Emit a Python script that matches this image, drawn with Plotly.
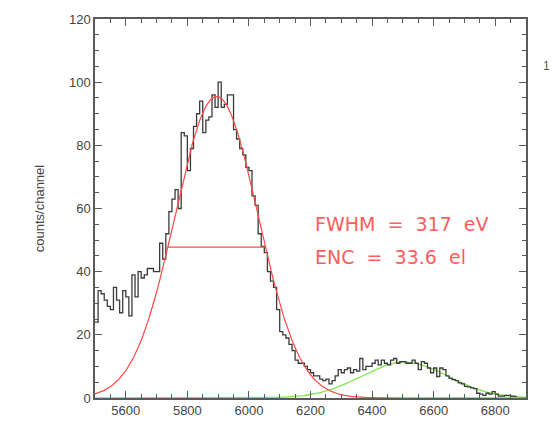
import numpy as np
import plotly.graph_objects as go

# ---- data ----
BIN_START = 5500          # eV, left edge of first bin
BIN_WIDTH = 10            # eV
counts = [
    24, 34, 33, 31, 29, 28, 35, 31, 27, 34,
    32, 26, 39, 32, 40, 38, 39, 41, 41, 40,
    40, 49, 44, 52, 59, 63, 66, 60, 84, 83,
    72, 79, 86, 90, 94, 84, 88, 89, 96, 92,
    100, 92, 93, 96, 96, 85, 82, 79, 77, 73,
    72, 64, 61, 52, 48, 46, 40, 37, 35, 28,
    21, 20, 19, 17, 15, 12, 11, 11, 10, 9,
    8, 7, 7, 6, 5.5, 6, 4.5, 5.5, 7, 9,
    8, 9, 9.5, 8, 9, 8.5, 12.5, 9, 10, 10,
    11, 12, 10.5, 12, 11, 10.5, 12, 12.5, 11, 11.5,
    11.5, 11, 11, 12, 11, 9, 11.5, 11, 9.5, 8,
    9.5, 6.8, 9.5, 9, 7, 6.2, 5.8, 5.5, 4.8, 4.5,
    3.7, 3.5, 3.2, 3, 1.5, 1.2, 0.8, 1.5, 1.2, 2,
    1.2, 0.6, 0.6, 0.8, 0.8, 0.6, 0.5,
]

# fitted peaks (amplitude, centre, FWHM)
peak1 = dict(amp=95.5, mu=5895.0, fwhm=317.0)
peak2 = dict(amp=11.4, mu=6505.0, fwhm=330.0)

x_range = [5500, 6900]
y_range = [0, 120]
x_ticks = [5600, 5800, 6000, 6200, 6400, 6600, 6800]
y_ticks = [0, 20, 40, 60, 80, 100, 120]
label1 = "FWHM\u00a0\u00a0=\u00a0\u00a0317\u00a0\u00a0eV"
label2 = "ENC\u00a0\u00a0=\u00a0\u00a033.6\u00a0\u00a0el"
y_title = "counts/channel"

# ---- build traces ----
edges = [BIN_START + i * BIN_WIDTH for i in range(len(counts) + 1)]
hist_y = list(counts) + [counts[-1]]

def gauss(x, amp, mu, fwhm):
    s = fwhm / (2 * np.sqrt(2 * np.log(2)))
    return amp * np.exp(-(x - mu) ** 2 / (2 * s ** 2))

xx = np.linspace(x_range[0], x_range[1], 700)

RED = "#ff4848"
GREEN = "#7ee84a"
AX = "#5a5a5a"

fig = go.Figure()
fig.add_trace(go.Scatter(x=xx, y=gauss(xx, **peak2), mode="lines",
                         line=dict(color=GREEN, width=1.3), hoverinfo="skip"))
fig.add_trace(go.Scatter(x=edges, y=hist_y, mode="lines", line_shape="hv",
                         line=dict(color="#3a3a3a", width=1.3)))
fig.add_trace(go.Scatter(x=xx, y=gauss(xx, **peak1), mode="lines",
                         line=dict(color=RED, width=1.2), hoverinfo="skip"))
half = peak1["amp"] / 2
fig.add_trace(go.Scatter(x=[peak1["mu"] - peak1["fwhm"] / 2, peak1["mu"] + peak1["fwhm"] / 2],
                         y=[half, half], mode="lines",
                         line=dict(color=RED, width=1.2)))

axis_common = dict(
    showgrid=False, zeroline=False, showline=True, linecolor=AX, linewidth=1.5,
    mirror="allticks", ticks="inside", ticklen=7, tickwidth=1, tickcolor=AX,
    tickfont=dict(family="Liberation Sans, Arial, sans-serif", size=13, color="#444"),
)

fig.update_xaxes(range=x_range, tickvals=x_ticks, **axis_common,
                 minor=dict(dtick=50, ticks="inside", ticklen=4, tickcolor=AX, showgrid=False))
fig.update_yaxes(range=y_range, tickvals=y_ticks, **axis_common,
                 title=dict(text=y_title, standoff=21,
                            font=dict(family="Liberation Sans, Arial, sans-serif", size=13, color="#444")),
                 minor=dict(dtick=5, ticks="inside", ticklen=4, tickcolor=AX, showgrid=False))

ANN_FONT = dict(family="DejaVu Sans, sans-serif", size=19, color="#ff5c5c")
fig.add_annotation(xref="paper", yref="paper", x=(313 - 95) / 431, y=(402 - 224) / 388,
                   text=label1, showarrow=False, xanchor="left", yanchor="middle", font=ANN_FONT)
fig.add_annotation(xref="paper", yref="paper", x=(313 - 95) / 431, y=(402 - 258) / 388,
                   text=label2, showarrow=False, xanchor="left", yanchor="middle", font=ANN_FONT)
fig.add_annotation(xref="paper", yref="paper", x=(546 - 95) / 431, y=(402 - 62) / 388,
                   text="1", showarrow=False, xanchor="center", yanchor="middle",
                   font=dict(family="Liberation Sans, Arial, sans-serif", size=12, color="#555"))

fig.update_layout(
    width=554, height=430, showlegend=False,
    paper_bgcolor="white", plot_bgcolor="white",
    margin=dict(l=95, r=28, t=14, b=28),
)

fig.write_html("out.html")
